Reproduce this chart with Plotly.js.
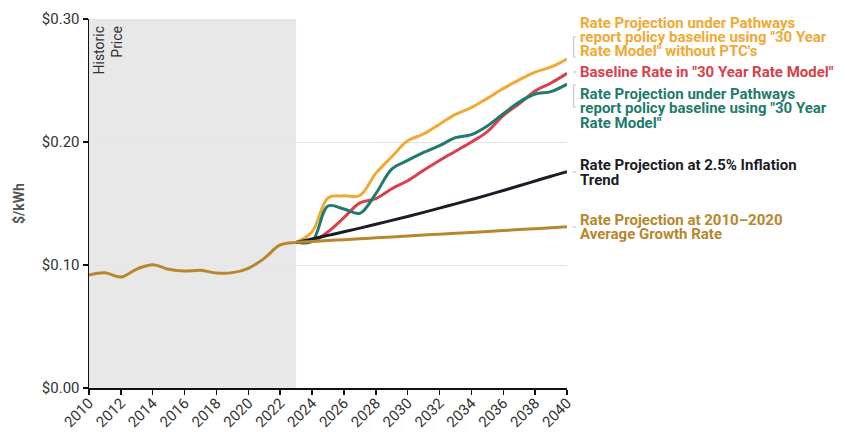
<!DOCTYPE html>
<html>
<head>
<meta charset="utf-8">
<script src="https://cdn.plot.ly/plotly-3.0.1.min.js"></script>
<style>
  html, body { margin: 0; padding: 0; background: #ffffff; }
  #chart { width: 845px; height: 432px; }
</style>
</head>
<body>
<div id="chart"></div>
<script>
// Electricity rate history and projections, $/kWh

const historicYears = [2010, 2011, 2012, 2013, 2014, 2015, 2016, 2017, 2018, 2019, 2020, 2021, 2022, 2023];
const historicPrice = [0.0919, 0.0937, 0.0902, 0.0967, 0.1003, 0.0965, 0.0951, 0.0957, 0.0935, 0.0938, 0.0973, 0.1054, 0.1163, 0.1184];

const projYears = [2023, 2024, 2025, 2026, 2027, 2028, 2029, 2030, 2031, 2032, 2033, 2034, 2035, 2036, 2037, 2038, 2039, 2040];

// Pathways policy baseline, "30 Year Rate Model" without PTC's
const pathwaysNoPtc = [0.1184, 0.1270, 0.1545, 0.1562, 0.1565, 0.1745, 0.1880, 0.2010, 0.2065, 0.2145, 0.2225, 0.2280, 0.2355, 0.2435, 0.2505, 0.2568, 0.2610, 0.2675];
// Baseline rate in "30 Year Rate Model"
const baselineModel = [0.1184, 0.1190, 0.1270, 0.1385, 0.1505, 0.1540, 0.1620, 0.1685, 0.1770, 0.1850, 0.1925, 0.2000, 0.2085, 0.2215, 0.2310, 0.2415, 0.2480, 0.2558];
// Pathways policy baseline, "30 Year Rate Model"
const pathwaysModel = [0.1184, 0.1195, 0.1480, 0.1455, 0.1420, 0.1580, 0.1780, 0.1850, 0.1915, 0.1970, 0.2035, 0.2060, 0.2130, 0.2230, 0.2325, 0.2390, 0.2410, 0.2470];
// 2.5% inflation trend
const inflationTrend = [0.1184, 0.1212, 0.1241, 0.1270, 0.1300, 0.1331, 0.1363, 0.1395, 0.1428, 0.1462, 0.1497, 0.1532, 0.1568, 0.1606, 0.1644, 0.1683, 0.1722, 0.1759];
// 2010–2020 average growth rate
const avgGrowth = [0.1184, 0.1191, 0.1199, 0.1206, 0.1214, 0.1221, 0.1228, 0.1236, 0.1243, 0.1251, 0.1258, 0.1265, 0.1273, 0.1280, 0.1288, 0.1295, 0.1302, 0.1310];

const seriesLabels = {
  pathwaysNoPtc: ['Rate Projection under Pathways', 'report policy baseline using "30 Year', 'Rate Model" without PTC\'s'],
  baselineModel: ['Baseline Rate in "30 Year Rate Model"'],
  pathwaysModel: ['Rate Projection under Pathways', 'report policy baseline using "30 Year', 'Rate Model"'],
  inflationTrend: ['Rate Projection at 2.5% Inflation', 'Trend'],
  avgGrowth: ['Rate Projection at 2010\u20132020', 'Average Growth Rate']
};

const COLORS = {
  pathwaysNoPtc: '#f1a934',
  baselineModel: '#d8414b',
  pathwaysModel: '#1f7b6d',
  inflationTrend: '#1a1d26',
  avgGrowth: '#b8862c'
};

// plot area in page pixels
const PLOT = { left: 89, right: 567, top: 19, bottom: 388 };
const px = x => (x - PLOT.left) / (PLOT.right - PLOT.left);
const py = y => (PLOT.bottom - y) / (PLOT.bottom - PLOT.top);

function lineTrace(x, y, color, name) {
  return {
    type: 'scatter', mode: 'lines', x: x, y: y, name: name,
    line: { color: color, width: 3, shape: 'spline', smoothing: 1 },
    hoverinfo: 'x+y'
  };
}

const traces = [
  lineTrace(projYears, pathwaysNoPtc, COLORS.pathwaysNoPtc, 'pathwaysNoPtc'),
  lineTrace(projYears, baselineModel, COLORS.baselineModel, 'baselineModel'),
  lineTrace(projYears, pathwaysModel, COLORS.pathwaysModel, 'pathwaysModel'),
  lineTrace(projYears, inflationTrend, COLORS.inflationTrend, 'inflationTrend'),
  lineTrace(historicYears.concat(projYears.slice(1)), historicPrice.concat(avgGrowth.slice(1)), COLORS.avgGrowth, 'avgGrowth')
];

// right-hand labels, one annotation per text line
const labelCenters = {
  pathwaysNoPtc: [22.5, 37, 51.5],
  baselineModel: [72],
  pathwaysModel: [93.5, 108, 122.5],
  inflationTrend: [165, 179.5],
  avgGrowth: [219.5, 234]
};

const annotations = [];
Object.keys(seriesLabels).forEach(key => {
  seriesLabels[key].forEach((txt, i) => {
    annotations.push({
      xref: 'paper', yref: 'paper',
      x: 1, y: py(labelCenters[key][i]),
      xanchor: 'left', yanchor: 'middle', xshift: 12,
      showarrow: false, align: 'left', borderpad: 0,
      text: txt,
      font: { family: 'Roboto, Arial, sans-serif', size: 15, weight: 'bold', color: COLORS[key] }
    });
  });
});

annotations.push({
  xref: 'x', yref: 'y', x: 2010, y: 0.30,
  xanchor: 'left', yanchor: 'top', xshift: -1, yshift: -5,
  textangle: -90, align: 'right', showarrow: false,
  text: 'Historic<br>Price',
  font: { family: 'Roboto, Arial, sans-serif', size: 14, color: '#333333' }
});

// small leader marks beside the labels
const markColor = '#c8c8c8';
const shapes = [
  {
    type: 'rect', xref: 'x', yref: 'y', x0: 2010, x1: 2023, y0: 0, y1: 0.30,
    fillcolor: '#e8e8e8', line: { width: 0 }, layer: 'below'
  },
  { type: 'path', xref: 'paper', yref: 'paper', line: { color: markColor, width: 1.2 },
    path: `M ${px(576)} ${py(37)} L ${px(573.5)} ${py(37)} L ${px(573.5)} ${py(57)} L ${px(576)} ${py(57)}` },
  { type: 'line', xref: 'paper', yref: 'paper', line: { color: markColor, width: 1.2 },
    x0: px(573), x1: px(576), y0: py(72), y1: py(72) },
  { type: 'path', xref: 'paper', yref: 'paper', line: { color: markColor, width: 1.2 },
    path: `M ${px(576)} ${py(85)} L ${px(573.5)} ${py(85)} L ${px(573.5)} ${py(107)} L ${px(576)} ${py(107)}` },
  { type: 'line', xref: 'paper', yref: 'paper', line: { color: markColor, width: 1.2 },
    x0: px(572.5), x1: px(576), y0: py(172), y1: py(172) },
  { type: 'line', xref: 'paper', yref: 'paper', line: { color: markColor, width: 1.2 },
    x0: px(572.5), x1: px(576), y0: py(227), y1: py(227) }
];

const layout = {
  width: 845, height: 432,
  margin: { l: PLOT.left, r: 845 - PLOT.right, t: PLOT.top, b: 432 - PLOT.bottom, pad: 0 },
  paper_bgcolor: '#ffffff', plot_bgcolor: '#ffffff',
  showlegend: false,
  font: { family: 'Roboto, Arial, sans-serif', color: '#333333' },
  xaxis: {
    range: [2010, 2040], tick0: 2010, dtick: 2, tickangle: -45,
    ticks: 'outside', ticklen: 5, tickwidth: 1.5, tickcolor: '#111111',
    showline: true, linecolor: '#111111', linewidth: 1.5,
    showgrid: false, zeroline: false, automargin: false,
    ticklabelstandoff: -6,
    tickfont: { size: 15, color: '#333333' }
  },
  yaxis: {
    range: [0, 0.30], dtick: 0.1, tickformat: '$.2f',
    ticks: 'outside', ticklen: 5, tickwidth: 1.5, tickcolor: '#111111',
    showline: true, linecolor: '#111111', linewidth: 1.5,
    showgrid: true, gridcolor: '#e4e4e4', gridwidth: 1, zeroline: false,
    automargin: false,
    tickfont: { size: 15, color: '#333333' },
    title: { text: '$/kWh', standoff: 14, font: { size: 14, weight: 'bold', color: '#555555' } }
  },
  shapes: shapes,
  annotations: annotations
};

Plotly.newPlot('chart', traces, layout, { displayModeBar: false, staticPlot: true });
</script>
</body>
</html>
